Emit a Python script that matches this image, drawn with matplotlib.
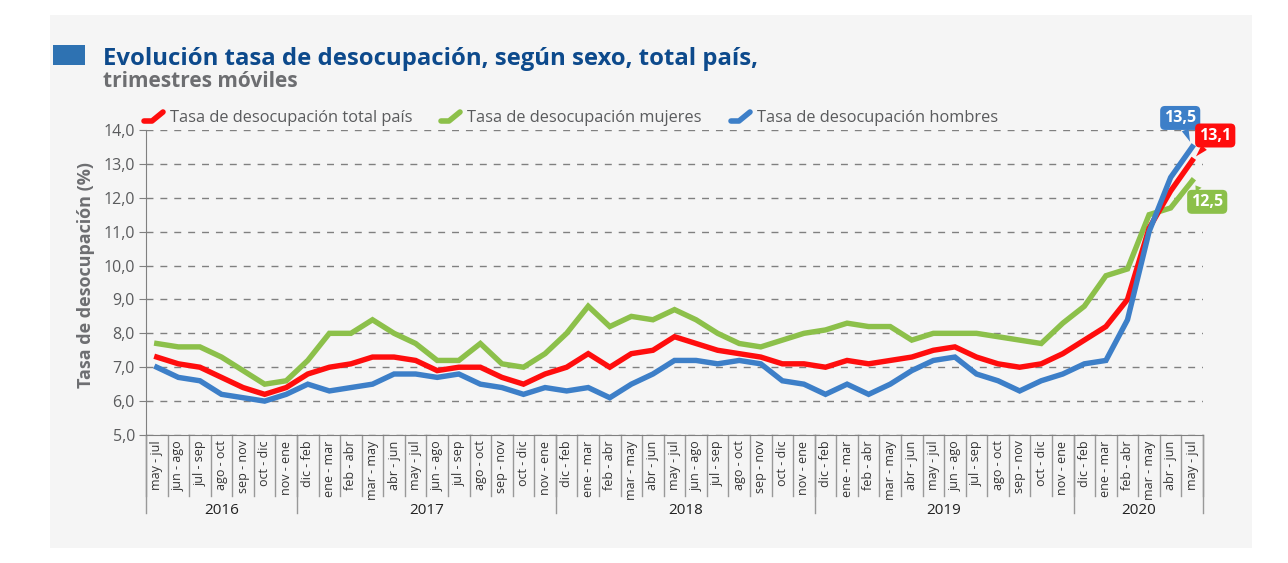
import numpy as np
import matplotlib
matplotlib.use('Agg')
import matplotlib.pyplot as plt
from matplotlib.lines import Line2D
from matplotlib.patches import Rectangle

plt.rcParams['font.family'] = ['Open Sans', 'DejaVu Sans']

# trimestres moviles, may-jul 2016 .. may-jul 2020
cycle = ['dic - feb', 'ene - mar', 'feb - abr', 'mar - may', 'abr - jun', 'may - jul',
         'jun - ago', 'jul - sep', 'ago - oct', 'sep - nov', 'oct - dic', 'nov - ene']
labels = cycle[5:] + cycle * 3 + cycle[:6]
years = ['2016', '2017', '2018', '2019', '2020']
year_counts = [7, 12, 12, 12, 6]

total = [7.3, 7.1, 7.0, 6.7, 6.4, 6.2, 6.4,
         6.8, 7.0, 7.1, 7.3, 7.3, 7.2, 6.9, 7.0, 7.0, 6.7, 6.5, 6.8,
         7.0, 7.4, 7.0, 7.4, 7.5, 7.9, 7.7, 7.5, 7.4, 7.3, 7.1, 7.1,
         7.0, 7.2, 7.1, 7.2, 7.3, 7.5, 7.6, 7.3, 7.1, 7.0, 7.1, 7.4,
         7.8, 8.2, 9.0, 11.1, 12.2, 13.1]
mujeres = [7.7, 7.6, 7.6, 7.3, 6.9, 6.5, 6.6,
           7.2, 8.0, 8.0, 8.4, 8.0, 7.7, 7.2, 7.2, 7.7, 7.1, 7.0, 7.4,
           8.0, 8.8, 8.2, 8.5, 8.4, 8.7, 8.4, 8.0, 7.7, 7.6, 7.8, 8.0,
           8.1, 8.3, 8.2, 8.2, 7.8, 8.0, 8.0, 8.0, 7.9, 7.8, 7.7, 8.3,
           8.8, 9.7, 9.9, 11.5, 11.7, 12.5]
hombres = [7.0, 6.7, 6.6, 6.2, 6.1, 6.0, 6.2,
           6.5, 6.3, 6.4, 6.5, 6.8, 6.8, 6.7, 6.8, 6.5, 6.4, 6.2, 6.4,
           6.3, 6.4, 6.1, 6.5, 6.8, 7.2, 7.2, 7.1, 7.2, 7.1, 6.6, 6.5,
           6.2, 6.5, 6.2, 6.5, 6.9, 7.2, 7.3, 6.8, 6.6, 6.3, 6.6, 6.8,
           7.1, 7.2, 8.4, 11.0, 12.6, 13.5]

c_red = '#ff0d0d'
c_green = '#8cc04a'
c_blue = '#3d7fc8'
grey_txt = '#5a5b5d'

W, H = 1288, 563
fig = plt.figure(figsize=(W / 100, H / 100), dpi=100)
fig.patch.set_facecolor('white')
fig.patches.append(Rectangle((50 / W, 1 - 548 / H), 1202 / W, 533 / H,
                             transform=fig.transFigure, fc='#f5f5f5', ec='none', zorder=-10))

ax = fig.add_axes([146 / W, 1 - 435 / H, 1057 / W, 305 / H])
ax.patch.set_visible(False)

x = np.arange(len(labels))
ax.plot(x, mujeres, color=c_green, lw=3.9, solid_joinstyle='miter', zorder=3)
ax.plot(x, total, color=c_red, lw=3.9, solid_joinstyle='miter', zorder=4)
ax.plot(x, hombres, color=c_blue, lw=3.9, solid_joinstyle='miter', zorder=5)

ax.set_xlim(-0.5, len(labels) - 0.5)
ax.set_ylim(5, 14)
yt = np.arange(5, 15)
ax.set_yticks(yt)
ax.set_yticklabels([('%.1f' % v).replace('.', ',') for v in yt], fontsize=11.5, color=grey_txt)
ax.yaxis.grid(True, ls=(0, (5, 5)), color='#808080', lw=1)
ax.set_axisbelow(True)
ax.tick_params(axis='y', direction='out', length=5, color='#808080', pad=3)

ax.set_xticks(x)
ax.set_xticklabels(labels, rotation=90, fontsize=9, color='#333333', va='top')
ax.tick_params(axis='x', length=0, pad=4)

for s in ['top', 'right']:
    ax.spines[s].set_visible(False)
ax.spines['left'].set_color('#808080')
ax.spines['bottom'].set_color('#808080')

tr = ax.get_xaxis_transform()
# category separators
for b in np.arange(-0.5, len(labels), 1.0):
    ax.plot([b, b], [0, -0.2], transform=tr, color='#999999', lw=1, clip_on=False)
# year separators and labels
start = -0.5
for yr, n in zip(years, year_counts):
    ax.plot([start, start], [0, -0.256], transform=tr, color='#999999', lw=1, clip_on=False)
    ax.text(start + n / 2, -0.246, yr, transform=tr, ha='center', va='center',
            fontsize=11, color='#222222')
    start += n
ax.plot([start, start], [0, -0.256], transform=tr, color='#999999', lw=1, clip_on=False)

# end-point callouts
last = len(labels) - 1
for val, col, off in [(hombres[-1], c_blue, (-12, 29)), (total[-1], c_red, (23, 25)),
                      (mujeres[-1], c_green, (15, -21))]:
    ax.annotate(('%.1f' % val).replace('.', ','), xy=(last, val), xytext=off,
                textcoords='offset pixels', ha='center', va='center',
                fontsize=11.5, fontweight='bold', color='white', zorder=10,
                bbox=dict(boxstyle='round,pad=0.25,rounding_size=0.3', fc=col, ec='none'),
                arrowprops=dict(arrowstyle='wedge,tail_width=0.45,shrink_factor=0.5',
                                fc=col, ec='none', shrinkA=0, shrinkB=4))

# title block
fig.patches.append(Rectangle((53 / W, 1 - 65 / H), 32 / W, 20 / H,
                             transform=fig.transFigure, fc='#2e72b2', ec='none'))
fig.text(103 / W, 1 - 65 / H, 'Evolución tasa de desocupación, según sexo, total país,',
         fontsize=17.2, fontweight='bold', color='#0d4a8c', va='baseline')
fig.text(103 / W, 1 - 87 / H, 'trimestres móviles', fontsize=15, fontweight='bold',
         color='#6d6e71', va='baseline')
fig.text(86 / W, 1 - 275 / H, 'Tasa de desocupación (%)', rotation=90, fontsize=13,
         fontweight='bold', color='#6d6e71', ha='center', va='center')

# legend
leg = [('Tasa de desocupación total país', c_red, 144),
       ('Tasa de desocupación mujeres', c_green, 441),
       ('Tasa de desocupación hombres', c_blue, 731)]
for txt, col, x0 in leg:
    fig.add_artist(Line2D([x0 / W, (x0 + 8) / W, (x0 + 19) / W],
                          [1 - 121 / H, 1 - 121 / H, 1 - 112 / H],
                          transform=fig.transFigure, color=col, lw=4,
                          solid_capstyle='round', solid_joinstyle='round'))
    fig.text((x0 + 26) / W, 1 - 122 / H, txt, fontsize=11.8, color=grey_txt, va='baseline')

fig.savefig('out.png', dpi=100, facecolor='white')
